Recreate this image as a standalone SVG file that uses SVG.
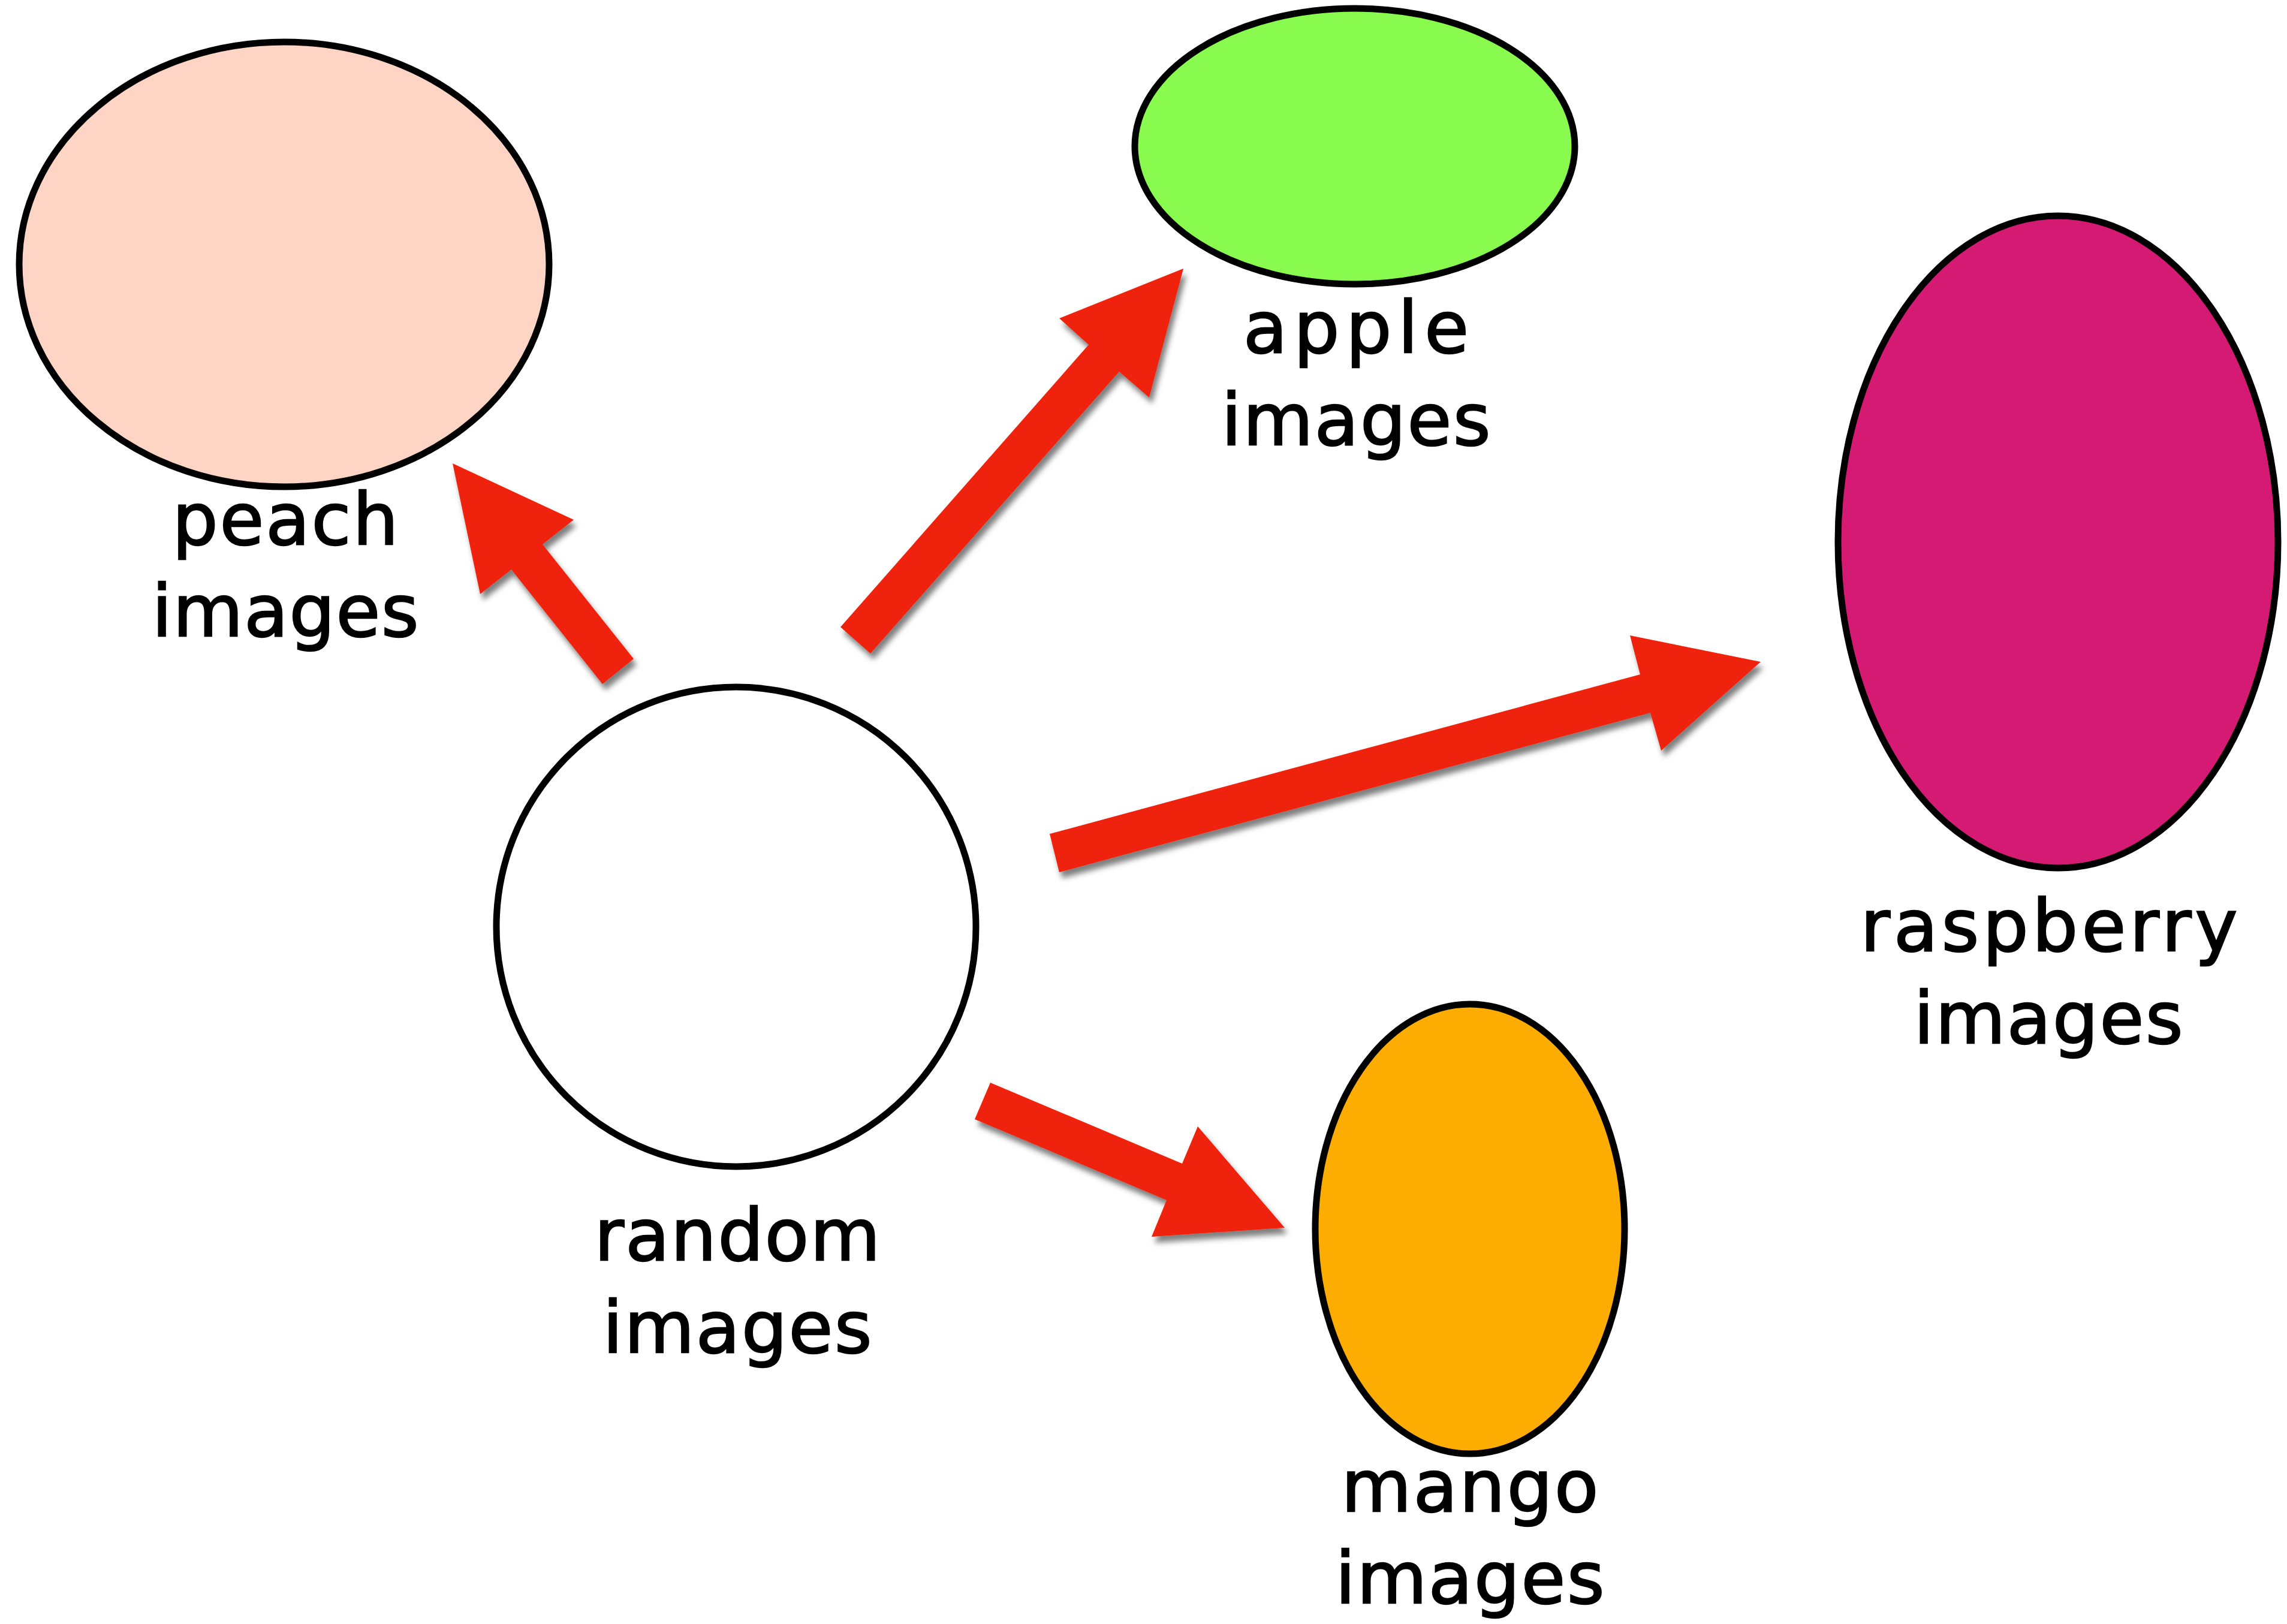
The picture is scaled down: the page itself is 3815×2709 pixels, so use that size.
<svg xmlns="http://www.w3.org/2000/svg" width="3815" height="2709" viewBox="0 0 3815 2709">
<defs>
<style>
.node{stroke:#000;stroke-width:11}
.lbl{font-family:"DejaVu Sans","Liberation Sans",Arial,sans-serif;font-size:120px;fill:#000;stroke:#000;stroke-width:2.5;text-anchor:middle}
.arrow{fill:#EE240E;filter:url(#sh)}
</style>
<filter id="sh" x="-20%" y="-20%" width="140%" height="140%">
<feDropShadow dx="5" dy="10" stdDeviation="5" flood-color="#000" flood-opacity="0.5"/>
</filter>
</defs>
<rect width="3815" height="2709" fill="#fff"/>
<g id="connectors">
<polygon class="arrow" points="755,773 957,867 905,908 1057,1099 1005,1141 853,950 801,991"/>
<polygon class="arrow" points="1974,448 1917,663 1867,620 1452,1090 1402,1046 1816,575 1767,531"/>
<polygon class="arrow" points="2937,1104 2771,1252 2753,1189 1767,1455 1751,1391 2736,1125 2719,1060"/>
<polygon class="arrow" points="2143,2048 1921,2063 1946,2002 1626,1867 1652,1806 1972,1941 1998,1879"/>
</g>
<g id="peach">
<ellipse class="node" cx="474" cy="441" rx="442" ry="371" fill="#FED4C4"/>
<text class="lbl" x="476" y="908" textLength="377" lengthAdjust="spacing">peach</text>
<text class="lbl" x="476" y="1061" textLength="445" lengthAdjust="spacing">images</text>
</g>
<g id="apple">
<ellipse class="node" cx="2260" cy="244" rx="367" ry="230" fill="#89FA4E"/>
<text class="lbl" x="2262" y="588" textLength="376" lengthAdjust="spacing">apple</text>
<text class="lbl" x="2262" y="742" textLength="449" lengthAdjust="spacing">images</text>
</g>
<g id="raspberry">
<ellipse class="node" cx="3433" cy="904" rx="367" ry="544" fill="#D41A73"/>
<text class="lbl" x="3418" y="1586" textLength="629" lengthAdjust="spacing">raspberry</text>
<text class="lbl" x="3417" y="1740" textLength="449" lengthAdjust="spacing">images</text>
</g>
<g id="random">
<circle class="node" cx="1228" cy="1546" r="400" fill="#fff"/>
<text class="lbl" x="1230" y="2102" textLength="477" lengthAdjust="spacing">random</text>
<text class="lbl" x="1230" y="2256" textLength="449" lengthAdjust="spacing">images</text>
</g>
<g id="mango">
<ellipse class="node" cx="2452" cy="2050" rx="258" ry="375" fill="#FDAC02"/>
<text class="lbl" x="2452" y="2521" textLength="429" lengthAdjust="spacing">mango</text>
<text class="lbl" x="2452" y="2674" textLength="449" lengthAdjust="spacing">images</text>
</g>
</svg>
